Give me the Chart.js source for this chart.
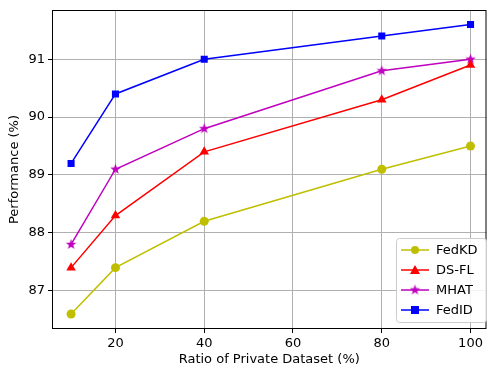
<!DOCTYPE html>
<html>
<head>
<meta charset="utf-8">
<script src="https://cdn.jsdelivr.net/npm/chart.js@4/dist/chart.umd.min.js"></script>
<style>
  html, body { margin: 0; padding: 0; background: #fff; }
  #wrap { width: 492px; height: 367px; }
</style>
</head>
<body>
<div id="wrap"><canvas id="chart" width="492" height="367"></canvas></div>
<script>
// ratio of private dataset (%)
const ratios = [10, 20, 40, 80, 100];
const xTicks = [20, 40, 60, 80, 100];
const yTicks = [87, 88, 89, 90, 91];

const fedKD = [86.6, 87.4, 88.2, 89.1, 89.5];
const dsFL  = [87.4, 88.3, 89.4, 90.3, 90.9];
const mhat  = [87.8, 89.1, 89.8, 90.8, 91.0];
const fedID = [89.2, 90.4, 91.0, 91.4, 91.6];

const FONT = 'DejaVu Sans';

// filled star like matplotlib '*'
function starImage(color, r) {
  const c = document.createElement('canvas');
  const s = Math.ceil(r * 2 + 2);
  c.width = s; c.height = s;
  const g = c.getContext('2d');
  g.beginPath();
  for (let i = 0; i < 10; i++) {
    const rad = i % 2 === 0 ? r : r * 0.42;
    const a = -Math.PI / 2 + i * Math.PI / 5;
    const px = s / 2 + rad * Math.cos(a), py = s / 2 + rad * Math.sin(a);
    i === 0 ? g.moveTo(px, py) : g.lineTo(px, py);
  }
  g.closePath();
  g.fillStyle = color;
  g.fill();
  return c;
}
const starPt = starImage('#bf00bf', 5.5);

const series = [
  { label: 'FedKD', data: fedKD, color: '#bfbf00', style: 'circle', r: 4.5 },
  { label: 'DS-FL', data: dsFL, color: '#ff0000', style: 'triangle', r: 5.5 },
  { label: 'MHAT', data: mhat, color: '#bf00bf', style: starPt, r: 5.5 },
  { label: 'FedID', data: fedID, color: '#0000ff', style: 'rect', r: 5 },
];

const legendBox = {
  id: 'legendBox',
  afterDraw(chart) {
    const g = chart.ctx;
    const x0 = 396, y0 = 238, w = 90, h = 84;
    g.save();
    g.fillStyle = 'rgba(255,255,255,0.85)';
    g.strokeStyle = '#cccccc';
    g.lineWidth = 1;
    g.beginPath();
    g.roundRect(x0 + 0.5, y0 + 0.5, w, h, 3);
    g.fill();
    g.stroke();
    g.font = '13px ' + FONT;
    g.textBaseline = 'middle';
    series.forEach((s, i) => {
      const cy = y0 + 12 + i * 20;
      g.strokeStyle = s.color;
      g.lineWidth = 1.5;
      g.beginPath();
      g.moveTo(x0 + 5, cy);
      g.lineTo(x0 + 33, cy);
      g.stroke();
      g.fillStyle = s.color;
      if (s.style === 'circle') {
        g.beginPath(); g.arc(x0 + 19, cy, 4, 0, Math.PI * 2); g.fill();
      } else if (s.style === 'triangle') {
        g.beginPath(); g.moveTo(x0 + 19, cy - 5); g.lineTo(x0 + 24, cy + 4); g.lineTo(x0 + 14, cy + 4); g.closePath(); g.fill();
      } else if (s.style === 'rect') {
        g.fillRect(x0 + 15, cy - 4, 8, 8);
      } else {
        g.drawImage(s.style, x0 + 19 - s.style.width / 2, cy - s.style.height / 2);
      }
      g.fillStyle = '#000';
      g.fillText(s.label, x0 + 40, cy + 1);
    });
    g.restore();
  }
};

const frame = {
  id: 'frame',
  afterDatasetsDraw(chart) {
    const a = chart.chartArea, g = chart.ctx;
    g.save();
    g.strokeStyle = '#000';
    g.lineWidth = 1;
    g.strokeRect(a.left + 0.5, a.top + 0.5, a.right - a.left - 1, a.bottom - a.top - 1);
    g.restore();
  }
};

new Chart(document.getElementById('chart'), {
  type: 'line',
  data: {
    datasets: series.map(s => ({
      label: s.label,
      data: ratios.map((x, i) => ({ x, y: s.data[i] })),
      borderColor: s.color,
      backgroundColor: s.color,
      borderWidth: 1.5,
      pointStyle: s.style,
      pointRadius: s.r,
      pointBorderWidth: 0,
      pointHoverRadius: s.r,
      tension: 0,
    }))
  },
  options: {
    responsive: false,
    animation: false,
    layout: { padding: { top: 10, right: 2, left: 0, bottom: 0 } },
    plugins: { legend: { display: false }, tooltip: { enabled: false } },
    scales: {
      x: {
        type: 'linear',
        min: 5.7, max: 103.6,
        afterBuildTicks: ax => { ax.ticks = xTicks.map(v => ({ value: v })); },
        afterFit: ax => { ax.height = 38; ax.paddingLeft = 0; ax.paddingRight = 0; },
        grid: { color: '#b0b0b0', lineWidth: 1, tickLength: 4, tickColor: '#000', drawOnChartArea: true },
        border: { display: false },
        ticks: { color: '#000', font: { family: FONT, size: 13 }, padding: 3, maxRotation: 0 },
        title: { display: true, text: 'Ratio of Private Dataset (%)', color: '#000', font: { family: FONT, size: 13 }, padding: { top: 2, bottom: 0 } }
      },
      y: {
        min: 86.34, max: 91.85,
        afterBuildTicks: ax => { ax.ticks = yTicks.map(v => ({ value: v })); },
        afterFit: ax => { ax.width = 52; ax.paddingTop = 0; ax.paddingBottom = 0; },
        grid: { color: '#b0b0b0', lineWidth: 1, tickLength: 4, tickColor: '#000' },
        border: { display: false },
        ticks: { color: '#000', font: { family: FONT, size: 13 }, padding: 3 },
        title: { display: true, text: 'Performance (%)', color: '#000', font: { family: FONT, size: 13 }, padding: { top: 7, bottom: 0 } }
      }
    }
  },
  plugins: [frame, legendBox]
});
</script>
</body>
</html>
